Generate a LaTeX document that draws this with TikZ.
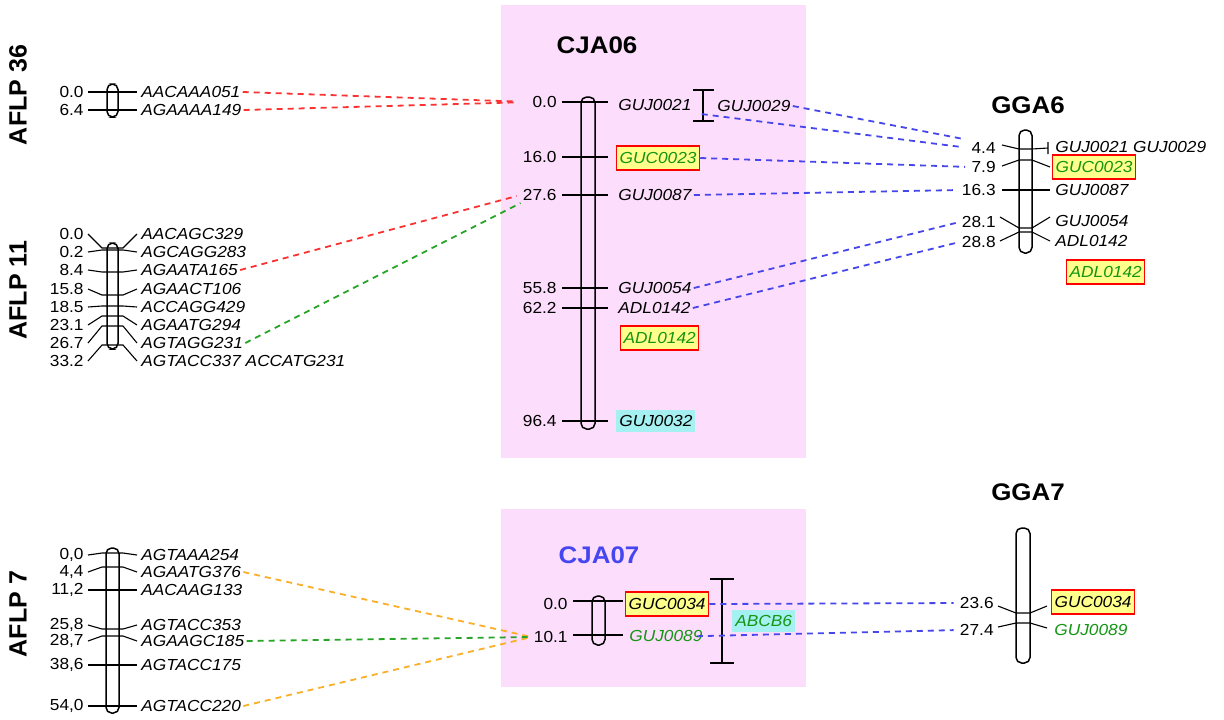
\documentclass[tikz,border=0pt]{standalone}
\usepackage{fontspec}
\setmainfont{Liberation Sans}
\newfontfamily\lf{Liberation Sans}[FakeStretch=1.08]
\definecolor{pinkbg}{RGB}{252,221,252}
\definecolor{hlyellow}{RGB}{255,255,140}
\definecolor{hlcyan}{RGB}{165,240,240}
\definecolor{mkgreen}{RGB}{20,150,20}
\definecolor{cblue}{RGB}{70,70,235}
\definecolor{cred}{RGB}{250,50,50}
\definecolor{cgreen}{RGB}{40,165,40}
\definecolor{corange}{RGB}{250,175,40}
\definecolor{tblue}{RGB}{70,70,240}
\begin{document}
\begin{tikzpicture}[x=0.5pt,y=-0.5pt,
  lbl/.style={font=\lf\fontsize{8}{9.6}\selectfont\itshape, anchor=west, inner sep=1pt},
  num/.style={font=\lf\fontsize{8}{9.6}\selectfont, anchor=east, inner sep=1pt},
  ttl/.style={font=\lf\fontsize{12}{14}\selectfont\bfseries},
  grp/.style={font=\fontsize{12.5}{14}\selectfont\bfseries, rotate=90},
  chrom/.style={draw, line width=0.75pt, rounded corners=2.8pt},
  tick/.style={line width=0.55pt},
  hl/.style={lbl, fill=hlyellow, draw=red, line width=0.7pt, inner xsep=1.5pt, minimum height=12pt},
  cyb/.style={lbl, fill=hlcyan, inner xsep=1.5pt, minimum height=11pt},
  conn/.style={dash pattern=on 3pt off 2.5pt, line width=0.9pt},
]
\useasboundingbox (0,0) rectangle (1224,719);
% pink backgrounds
\fill[pinkbg] (501,5) rectangle (806,458);
\fill[pinkbg] (501,509) rectangle (806,687);

% ---------------- AFLP 36
\node[grp] (g36) at (18,95) {AFLP 36};
\draw[chrom] (107,84) rectangle (118,117);
\foreach \i/\ly/\nm/\lab in {1/92/0.0/AACAAA051, 2/110/6.4/AGAAAA149}{
  \draw[tick] (88,\ly) -- (137,\ly);
  \node[num] (a36n\i) at (86,\ly) {\nm};
  \node[lbl] (a36l\i) at (139,\ly) {\lab};
}

% ---------------- AFLP 11
\node[grp] (g11) at (18,290) {AFLP 11};
\draw[chrom] (107,243) rectangle (118,349);
\foreach \i/\ly/\cy/\nm/\lab in {1/234/248/0.0/AACAGC329, 2/252/250/0.2/AGCAGG283, 3/270/272/8.4/AGAATA165,
  4/289/295/15.8/AGAACT106, 5/307/306/18.5/ACCAGG429, 6/325/316/23.1/AGAATG294, 7/343/326/26.7/AGTAGG231,
  8/361/345/33.2/AGTACC337 ACCATG231}{
  \draw[tick] (88,\ly) -- (102,\cy) -- (123,\cy) -- (137,\ly);
  \node[num] (a11n\i) at (86,\ly) {\nm};
  \node[lbl] (a11l\i) at (139,\ly) {\lab};
}

% ---------------- AFLP 7
\node[grp] (g7) at (18,614) {AFLP 7};
\draw[chrom] (106,548) rectangle (119,713);
\foreach \i/\ly/\cy/\nm/\lab in {1/555/553/{0,0}/AGTAAA254, 2/572/567/{4,4}/AGAATG376, 3/590/590/{11,2}/AACAAG133,
  4/625/629/{25,8}/AGTACC353, 5/641/636/{28,7}/AGAAGC185, 6/665/665/{38,6}/AGTACC175, 7/706/706/{54,0}/AGTACC220}{
  \draw[tick] (88,\ly) -- (102,\cy) -- (123,\cy) -- (137,\ly);
  \node[num] (a7n\i) at (86,\ly) {\nm};
  \node[lbl] (a7l\i) at (139,\ly) {\lab};
}

% ---------------- CJA06
\node[ttl] (tcja6) at (597,45) {CJA06};
\draw[chrom] (581,97) rectangle (595,429);
\foreach \i/\ly/\nm in {0/102/0.0, 1/157/16.0, 2/195/27.6, 3/288/55.8, 4/308/62.2, 5/421/96.4}{
  \draw[tick] (562,\ly) -- (608,\ly);
  \node[num] (cjn\i) at (559,\ly) {\nm};
}
\node[lbl] (cjl0) at (616,105) {GUJ0021};
\node[hl, text=mkgreen] (cjl1) at (616,158) {GUC0023};
\node[lbl] (cjl2) at (616,195) {GUJ0087};
\node[lbl] (cjl3) at (616,288) {GUJ0054};
\node[lbl] (cjl4) at (616,308) {ADL0142};
\node[hl, text=mkgreen] (cjl6) at (620,338) {ADL0142};
\node[cyb] (cjl5) at (616,421) {GUJ0032};
\draw[tick, line width=0.7pt] (703,90) -- (703,121) (693,90) -- (714,90) (693,121) -- (714,121);
\node[lbl] (cjl29) at (715,106) {GUJ0029};

% ---------------- GGA6
\node[ttl] (tgga6) at (1028,105) {GGA6};
\draw[chrom] (1019,130) rectangle (1032,253);
\draw[tick] (1002,145) -- (1019,149) -- (1032,149) -- (1048,148) (1048,142) -- (1048,154);
\draw[tick] (1002,166) -- (1019,160) -- (1032,160) -- (1050,167);
\draw[tick] (1002,190) -- (1050,190);
\draw[tick] (1000,217) -- (1019,228) -- (1032,228) -- (1050,217);
\draw[tick] (1000,241) -- (1019,232) -- (1032,232) -- (1050,241);
\node[num] (g6n1) at (998,148) {4.4};
\node[num] (g6n2) at (998,167) {7.9};
\node[num] (g6n3) at (998,190) {16.3};
\node[num] (g6n4) at (998,222) {28.1};
\node[num] (g6n5) at (998,242) {28.8};
\node[lbl] (g6l1) at (1053,147) {GUJ0021 GUJ0029};
\node[hl, text=mkgreen] (g6l2) at (1052,167) {GUC0023};
\node[lbl] (g6l3) at (1053,190) {GUJ0087};
\node[lbl] (g6l4) at (1053,221) {GUJ0054};
\node[lbl] (g6l5) at (1053,241) {ADL0142};
\node[hl, text=mkgreen] (g6l6) at (1066,272) {ADL0142};

% ---------------- CJA07
\node[ttl, text=tblue] (tcja7) at (599,555) {CJA07};
\draw[chrom] (592,596) rectangle (605,645);
\draw[tick] (573,601) -- (623,601);
\draw[tick] (573,635) -- (623,635);
\node[num] (c7n1) at (570,604) {0.0};
\node[num] (c7n2) at (570,637) {10.1};
\node[hl] (c7l1) at (625,604) {GUC0034};
\node[lbl, text=mkgreen] (c7l2) at (627,636) {GUJ0089};
\draw[tick, line width=0.7pt] (722,579) -- (722,663) (710,579) -- (734,579) (710,663) -- (734,663);
\node[cyb, text=mkgreen] (c7l3) at (732,621) {ABCB6};

% ---------------- GGA7
\node[ttl] (tgga7) at (1028,492) {GGA7};
\draw[chrom] (1016,528) rectangle (1030,663);
\draw[tick] (998,606) -- (1016,613) -- (1030,613) -- (1047,606);
\draw[tick] (998,627) -- (1016,623) -- (1030,623) -- (1047,628);
\node[num] (g7n1) at (996,603) {23.6};
\node[num] (g7n2) at (996,630) {27.4};
\node[hl] (g7l1) at (1051,602) {GUC0034};
\node[lbl, text=mkgreen] (g7l2) at (1052,630) {GUJ0089};

% ---------------- connectors
\draw[conn, cred, shorten >=7pt] (a36l1.east) -- (cjn0.west);
\draw[conn, cred, shorten >=7pt] (a36l2.east) -- (cjn0.west);
\draw[conn, cred, shorten >=2pt] (a11l3.east) -- (cjn2.west);
\draw[conn, cgreen] (a11l7.east) -- (cjn2.south west);

\draw[conn, cblue, shorten <=4pt, shorten >=3pt] (cjl0.south east) -- (g6n1.west);
\draw[conn, cblue, shorten >=3pt] (cjl29.east) -- (g6n1.north west);
\draw[conn, cblue, shorten >=2pt] (cjl1.east) -- (g6n2.west);
\draw[conn, cblue, shorten >=2pt] (cjl2.east) -- (g6n3.west);
\draw[conn, cblue, shorten >=2pt] (cjl3.east) -- (g6n4.west);
\draw[conn, cblue, shorten >=2pt] (cjl4.east) -- (g6n5.west);

\draw[conn, corange] (a7l2.east) -- (c7n2.west);
\draw[conn, corange] (a7l7.east) -- (c7n2.west);
\draw[conn, cgreen] (a7l5.east) -- (c7n2.west);

\draw[conn, cblue, shorten >=2pt] (c7l1.east) -- (g7n1.west);
\draw[conn, cblue, shorten <=-4pt, shorten >=2pt] (c7l2.east) -- (g7n2.west);
\end{tikzpicture}
\end{document}
